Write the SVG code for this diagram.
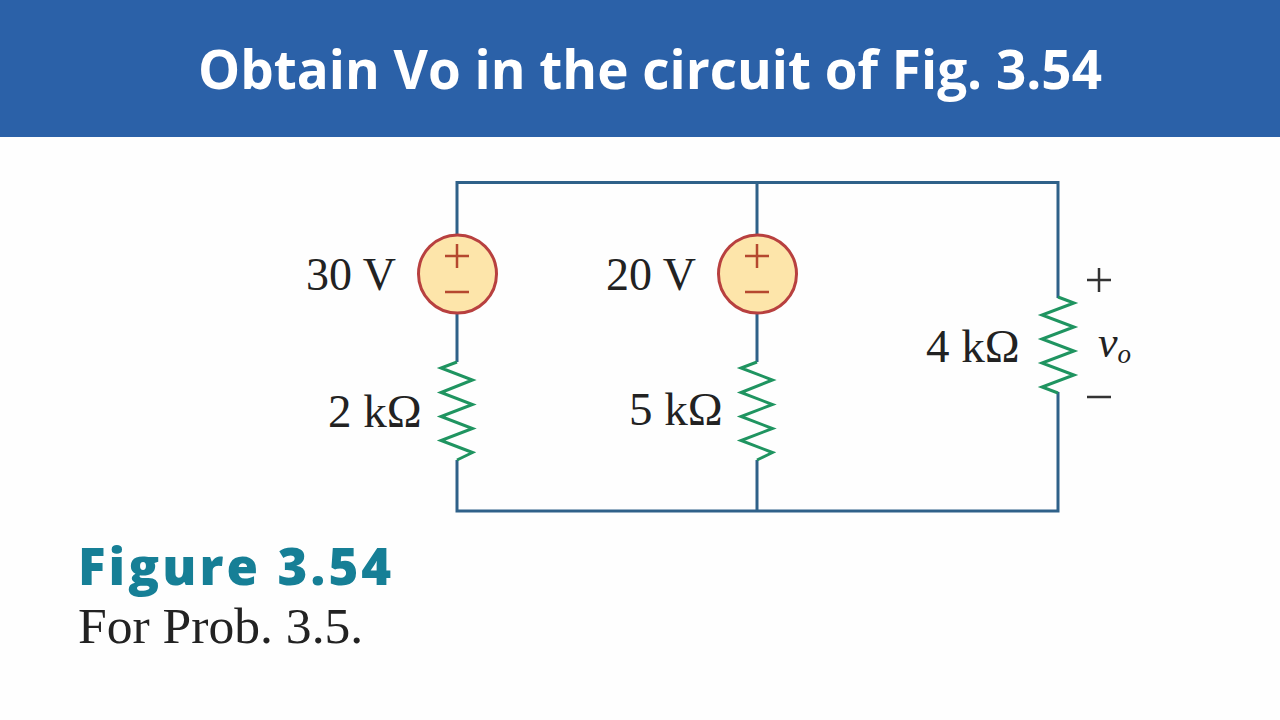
<svg xmlns="http://www.w3.org/2000/svg" width="1280" height="720" viewBox="0 0 1280 720">
<style>
.wire{fill:none;stroke:#2f6189;stroke-width:3}
.res{fill:none;stroke:#1f9460;stroke-width:3;stroke-linejoin:miter}
.src{fill:#fde5aa;stroke:#b8403f;stroke-width:3}
.pol{fill:none;stroke:#b5482f;stroke-width:2.500}
.lab{font-family:"Liberation Serif",serif;font-size:46px;fill:#222}
.ohm{font-family:"Liberation Serif",serif;font-size:47px;fill:#222}
.mark{fill:none;stroke:#333;stroke-width:2.500}
</style>
<rect width="1280" height="720" fill="#fefefe"/>
<rect width="1280" height="137" fill="#2b61a8"/>
<text x="650" y="89" text-anchor="middle" font-family="'Open Sans',sans-serif" font-weight="700" font-size="53" fill="#fff">Obtain Vo in the circuit of Fig. 3.54</text>
<g id="connectors">
<path class="wire" d="M457 236V182.500H1058V298M757 182.500V236M457 314V362M757 314V362M457 460V511H1058V392M757 460V511"/>
</g>
<g id="source-30v">
<circle class="src" cx="457.500" cy="274" r="39"/>
<path class="pol" d="M445 256H469M457 244V268M445 292H469"/>
<text class="lab" x="306" y="290">30 V</text>
</g>
<g id="source-20v">
<circle class="src" cx="757.500" cy="274" r="39"/>
<path class="pol" d="M745 256H769M757 244V268M745 292H769"/>
<text class="lab" x="606" y="290">20 V</text>
</g>
<g id="resistor-2k">
<path class="res" d="M457 362L441 368L472.500 380L441 392.500L472.500 404.500L441 416.500L472.500 428.500L441 440.500L472.500 452.500L457 460"/>
<text class="ohm" x="328" y="427">2 kΩ</text>
</g>
<g id="resistor-5k">
<path class="res" d="M757 362L741 368L772.500 380L741 392.500L772.500 404.500L741 416.500L772.500 428.500L741 440.500L772.500 452.500L757 460"/>
<text class="ohm" x="629" y="425">5 kΩ</text>
</g>
<g id="resistor-4k">
<path class="res" d="M1058 297L1074 303L1042 315L1074 327L1042 339L1074 351L1042 363L1074 375L1042 387L1058 393"/>
<text class="ohm" x="926" y="362">4 kΩ</text>
<path class="mark" d="M1087 280H1111M1099 268V292M1087 397H1111"/>
<text x="1098" y="357" font-family="'Liberation Serif',serif" font-style="italic" font-size="44" fill="#222">v<tspan dy="6" font-size="27">o</tspan></text>
</g>
<text x="78" y="585" font-family="'Open Sans',sans-serif" font-weight="800" font-size="51" letter-spacing="3.100" fill="#167f96">Figure 3.54</text>
<text x="78" y="643" font-family="'Liberation Serif',serif" font-size="51.600" fill="#222">For Prob. 3.5.</text>
</svg>
